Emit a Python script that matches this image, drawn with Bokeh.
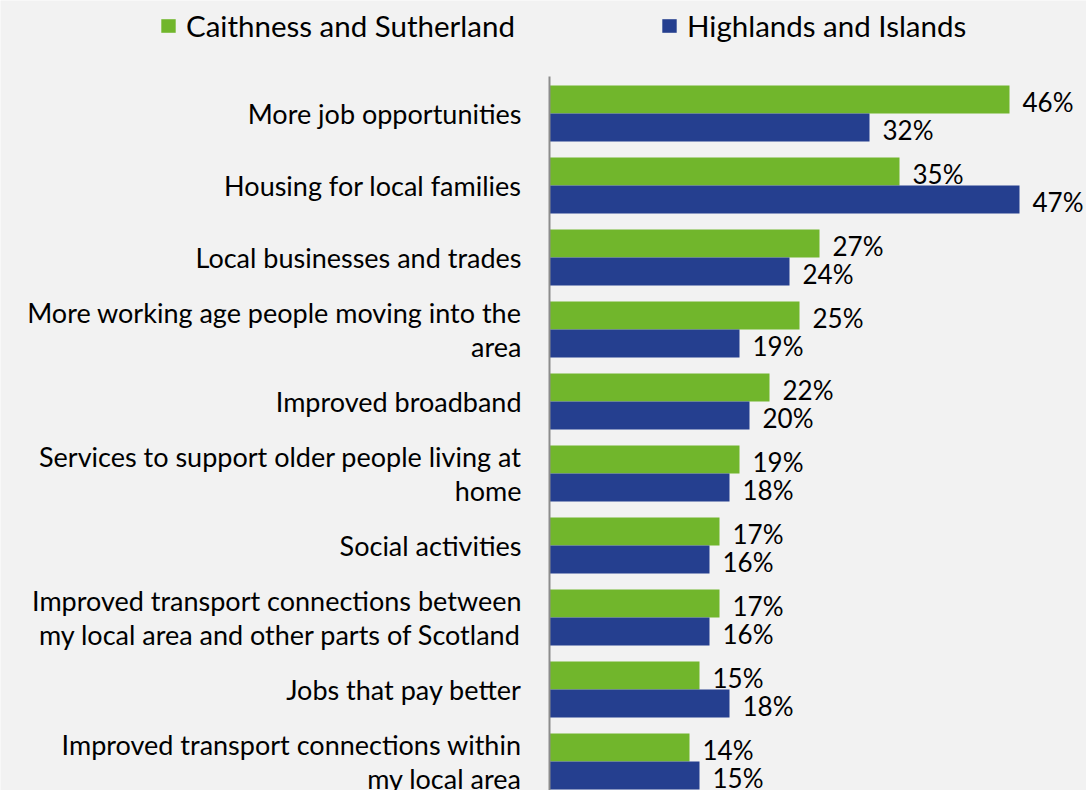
from bokeh.plotting import figure
from bokeh.models import Range1d, Legend, LegendItem, ColumnDataSource
from bokeh.core.properties import value
from bokeh.embed import file_html
from bokeh.resources import INLINE
import numpy as np

categories = [
    "More job opportunities",
    "Housing for local families",
    "Local businesses and trades",
    "More working age people moving into the\narea",
    "Improved broadband",
    "Services to support older people living at\nhome",
    "Social activities",
    "Improved transport connections between\nmy local area and other parts of Scotland",
    "Jobs that pay better",
    "Improved transport connections within\nmy local area",
]
caithness = [46, 35, 27, 25, 22, 19, 17, 17, 15, 14]
highlands = [32, 47, 24, 19, 20, 18, 16, 16, 18, 15]
series_names = ["Caithness and Sutherland", "Highlands and Islands"]

GREEN = "#71b62c"
BLUE = "#253f8f"
BG = "#f2f2f2"
FONT = "Lato"

pos = np.arange(len(categories))
off = 14 / 72
bh = 28 / 72

src = ColumnDataSource(dict(
    y=pos,
    yg=pos - off,
    yb=pos + off,
    cat=categories,
    g=caithness,
    b=highlands,
    gl=[f"{v}%" for v in caithness],
    bl=[f"{v}%" for v in highlands],
))

y_top = -113 / 72
y_bot = 677 / 72
axis_top = -0.514

p = figure(width=1086, height=790, output_backend="svg", toolbar_location=None,
           x_range=Range1d(-54.9, 53.7), y_range=Range1d(y_bot, y_top),
           x_axis_location=None, y_axis_location=None,
           min_border_left=0, min_border_right=0, min_border_top=0, min_border_bottom=0)
p.background_fill_color = BG
p.border_fill_color = BG
p.outline_line_color = None
p.xgrid.visible = False
p.ygrid.visible = False

rg = p.hbar(y="yg", left=0, right="g", height=bh, source=src, fill_color=GREEN, line_color=None)
rb = p.hbar(y="yb", left=0, right="b", height=bh, source=src, fill_color=BLUE, line_color=None)

# vertical category axis line
p.segment(x0=0, y0=axis_top, x1=0, y1=y_bot, line_color="#8c8c8c", line_width=2)

p.text(x=0, y="y", text="cat", source=src, x_offset=-28, text_align="right",
       text_baseline="middle", text_font=value(FONT), text_font_size="27px",
       text_color="black", text_line_height=1.04)
p.text(x="g", y="yg", text="gl", source=src, x_offset=13, y_offset=2, text_align="left",
       text_baseline="middle", text_font=value(FONT), text_font_size="26px", text_color="black")
p.text(x="b", y="yb", text="bl", source=src, x_offset=13, y_offset=2, text_align="left",
       text_baseline="middle", text_font=value(FONT), text_font_size="26px", text_color="black")

for r, name, lx in [(rg, series_names[0], 159), (rb, series_names[1], 660)]:
    lg = Legend(items=[LegendItem(label=name, renderers=[r])], location=(lx, 747),
                padding=0, margin=0, border_line_color=None, background_fill_alpha=0,
                glyph_width=18, glyph_height=17, label_standoff=9,
                label_text_font=FONT, label_text_font_size="29.5px", label_text_color="black")
    p.add_layout(lg, "center")

open("out.html", "w").write(file_html(p, INLINE))
